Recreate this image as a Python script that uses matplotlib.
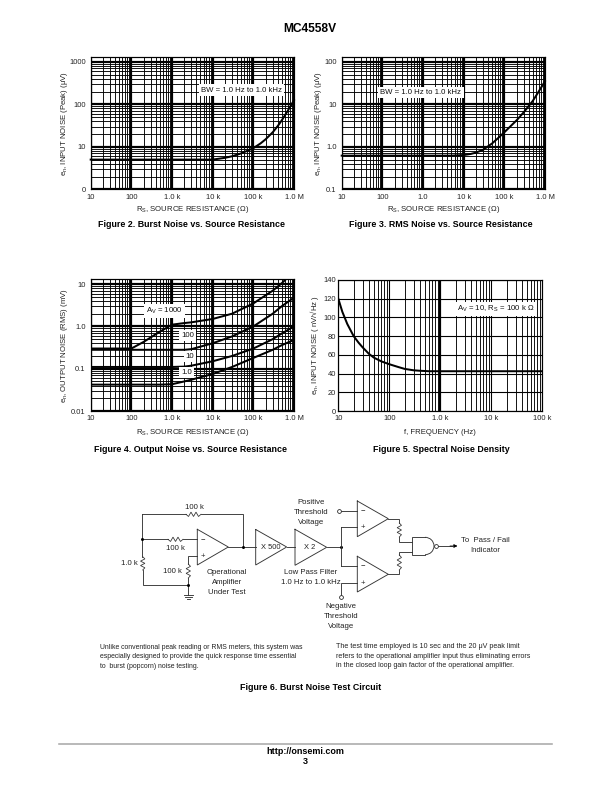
import matplotlib
matplotlib.use("Agg")
import matplotlib.pyplot as plt
import numpy as np
from matplotlib.patches import Arc

plt.rcParams['font.family'] = ['Liberation Sans', 'DejaVu Sans']
plt.rcParams['mathtext.fontset'] = 'custom'
plt.rcParams['mathtext.rm'] = 'Liberation Sans'
plt.rcParams['mathtext.it'] = 'Liberation Sans'
plt.rcParams['mathtext.bf'] = 'Liberation Sans:bold'

W, H = 612, 792

# Figure 2
burst_r = [10, 100, 1e3, 5e3, 1e4, 2e4, 3e4, 5e4, 7e4, 1e5, 1.5e5, 2e5, 3e5, 4e5, 5e5, 7e5, 1e6]
burst_v = [5, 5, 5, 5, 5, 5.5, 6, 7, 8, 9.3, 12, 15, 22, 31, 42, 70, 125]
# Figure 3
rms_r = [10, 100, 1e3, 5e3, 1e4, 1.5e4, 2e4, 3e4, 5e4, 7e4, 1e5, 2e5, 3e5, 5e5, 7e5, 1e6]
rms_v = [0.62, 0.62, 0.62, 0.62, 0.64, 0.68, 0.73, 0.85, 1.2, 1.6, 2.2, 4.2, 6.5, 12, 20, 35]
# Figure 4
out_r = [10, 100, 200, 300, 500, 1e3, 2e3, 3e3, 1e4, 3e4, 1e5, 3e5, 5e5, 1e6]
out_1000 = [0.3, 0.3, 0.43, 0.55, 0.75, 1.1, 1.2, 1.25, 1.5, 2.0, 3.5, 7.0, 10.5, 20]
out_100 = [0.28, 0.28, 0.28, 0.28, 0.28, 0.28, 0.28, 0.29, 0.4, 0.58, 1.0, 2.0, 3.0, 4.8]
out_10 = [0.11, 0.11, 0.11, 0.11, 0.11, 0.11, 0.112, 0.118, 0.15, 0.2, 0.3, 0.5, 0.68, 1.0]
out_1 = [0.042, 0.042, 0.042, 0.042, 0.042, 0.043, 0.05, 0.055, 0.075, 0.11, 0.18, 0.28, 0.36, 0.48]
# Figure 5
freq = [10, 12, 15, 20, 25, 30, 40, 50, 70, 100, 150, 200, 300, 400, 600, 1000, 1e4, 1e5]
spectral = [120, 106, 93, 80, 73, 68, 61, 57, 53, 50, 47, 45, 43.5, 43, 42.5, 42.5, 42.5, 42.5]

x_labels_r = ['10', '100', '1.0 k', '10 k', '100 k', '1.0 M']
x_labels_f = ['10', '100', '1.0 k', '10 k', '100 k']
RS_LABEL = r'R$_{\mathrm{S}}$, SOURCE RESISTANCE (Ω)'
TXT = '#222222'


def add_axes_px(fig, left, top, right, bottom):
    return fig.add_axes([left / W, 1 - bottom / H, (right - left) / W, (bottom - top) / H])


def log_grid(ax, xdec, ydec=None, xmajor=None):
    for d in xdec:
        ax.axvline(d, color='k', lw=2.2 if xmajor is None or d == xmajor else 1.1, zorder=1)
        if d != xdec[-1]:
            for m in range(2, 10):
                ax.axvline(d * m, color='k', lw=0.9, zorder=1)
    if ydec is not None:
        for d in ydec:
            ax.axhline(d, color='k', lw=2.2, zorder=1)
            for m in range(2, 10):
                if d * m < ax.get_ylim()[1]:
                    ax.axhline(d * m, color='k', lw=0.9, zorder=1)


def setup(ax, box, xlim, ylim, xticks, xlabels, yticks, ylabels, ylabel, xlabel, ylab_x, xlab_y, ylog=True, ypad=5):
    left, top, right, bottom = box
    ax.set_xscale('log')
    if ylog:
        ax.set_yscale('log')
    ax.set_xlim(xlim)
    ax.set_ylim(ylim)
    ax.minorticks_off()
    ax.set_xticks(xticks)
    ax.set_xticklabels(xlabels, fontsize=7.5, color=TXT)
    ax.set_yticks(yticks)
    ax.set_yticklabels(ylabels, fontsize=7.5, color=TXT)
    ax.tick_params(axis='y', length=0, pad=ypad)
    ax.tick_params(axis='x', length=0, pad=4.5)
    for s in ax.spines.values():
        s.set_linewidth(1.2)
    ax.set_xlabel(xlabel, fontsize=7.8, color=TXT)
    ax.set_ylabel(ylabel, fontsize=7.8, color=TXT)
    ax.xaxis.set_label_coords(0.5, (bottom - xlab_y) / (bottom - top))
    ax.yaxis.set_label_coords((ylab_x - left) / (right - left), 0.5)
    ax.xaxis.label.set_verticalalignment('center')
    ax.yaxis.label.set_verticalalignment('center')


fig = plt.figure(figsize=(W / 72, H / 72), dpi=72, facecolor='white')
dec_r = [10, 100, 1e3, 1e4, 1e5, 1e6]
dec_f = [10, 100, 1e3, 1e4, 1e5]

# Figure 2
box = (90.7, 57, 294, 189.3)
ax = add_axes_px(fig, *box)
setup(ax, box, (10, 1e6), (1, 1300), dec_r, x_labels_r,
      [1, 10, 100, 1000], ['0', '10', '100', '1000'],
      r'e$_{\mathrm{n}}$, INPUT NOISE (Peak) (μV)', RS_LABEL, 65, 210)
log_grid(ax, dec_r, [1, 10, 100, 1000])
ax.plot(burst_r, burst_v, color='k', lw=2.0, zorder=3, clip_on=False)

# Figure 3
box = (341.7, 57, 545, 189.3)
ax = add_axes_px(fig, *box)
setup(ax, box, (10, 1e6), (0.1, 130), dec_r,
      ['10', '100', '1.0', '10 k', '100 k', '1.0 M'],
      [0.1, 1, 10, 100], ['0.1', '1.0', '10', '100'],
      r'e$_{\mathrm{n}}$, INPUT NOISE (Peak) (μV)', RS_LABEL, 318, 210)
log_grid(ax, dec_r, [0.1, 1, 10, 100])
ax.plot(rms_r, rms_v, color='k', lw=2.0, zorder=3, clip_on=False)

# Figure 4
box = (90.7, 279.3, 294, 411)
ax = add_axes_px(fig, *box)
setup(ax, box, (10, 1e6), (0.01, 13), dec_r, x_labels_r,
      [0.01, 0.1, 1, 10], ['0.01', '0.1', '1.0', '10'],
      r'e$_{\mathrm{n}}$, OUTPUT NOISE (RMS) (mV)', RS_LABEL, 65, 432)
log_grid(ax, dec_r, [0.01, 0.1, 1, 10])
for vals in [out_1000, out_100, out_10, out_1]:
    ax.plot(out_r, vals, color='k', lw=2.0, zorder=3)

# Figure 5
box = (338.3, 280, 542.3, 411)
ax = add_axes_px(fig, *box)
setup(ax, box, (10, 1e5), (0, 140), dec_f, x_labels_f,
      np.arange(0, 141, 20), [str(v) for v in range(0, 141, 20)],
      r'e$_{\mathrm{n}}$, INPUT NOISE ( nV/√Hz )', 'f, FREQUENCY (Hz)', 314.5, 433, ylog=False, ypad=2.5)
log_grid(ax, dec_f, xmajor=1e3)
for v in range(0, 141, 20):
    ax.axhline(v, color='k', lw=1.1, zorder=1)
ax.plot(freq, spectral, color='k', lw=2.0, zorder=3)

# page layer, pixel coordinates
pg = fig.add_axes([0, 0, 1, 1], zorder=10)
pg.set_xlim(0, W)
pg.set_ylim(H, 0)
pg.axis('off')
pg.patch.set_alpha(0)


def t(x, y, s, fs=7.8, ha='center', weight='normal', color=TXT):
    pg.text(x, y, s, fontsize=fs, ha=ha, va='center', fontweight=weight, color=color)


def note(x, y, s):
    pg.text(x, y, s, fontsize=7.8, ha='center', va='center', color='#111111',
            bbox=dict(fc='white', ec='none', pad=2.0))


def wire(xs, ys, lw=0.9, color='#333333'):
    pg.plot(xs, ys, color=color, lw=lw, solid_capstyle='projecting', solid_joinstyle='miter')


def tri(x0, y0, y1, x1, ym):
    wire([x0, x0, x1, x0], [y0, y1, ym, y0])


def dot(x, y):
    pg.plot([x], [y], 'o', color='k', ms=3, mew=0)


def open_dot(x, y, r=3.8):
    pg.plot([x], [y], 'o', mfc='white', mec='#222222', ms=r, mew=0.8, zorder=5)


def res_h(x0, x1, y, n=6, a=2.2):
    xs = np.linspace(x0, x1, n + 1)
    ys = [y] + [y + (a if i % 2 else -a) for i in range(1, n)] + [y]
    wire(xs, ys, lw=0.8)


def res_v(x, y0, y1, n=6, a=2.2):
    ys = np.linspace(y0, y1, n + 1)
    xs = [x] + [x + (a if i % 2 else -a) for i in range(1, n)] + [x]
    wire(xs, ys, lw=0.8)


note(241.7, 90, 'BW = 1.0 Hz to 1.0 kHz')
note(421, 92.3, 'BW = 1.0 Hz to 1.0 kHz')
note(164.3, 310.7, r'A$_{\mathrm{V}}$ = 1000')
note(187.7, 335.7, '100')
note(190, 356.7, '10')
note(186.7, 372.7, '1.0')
note(496, 308.7, r'A$_{\mathrm{V}}$ = 10, R$_{\mathrm{S}}$ = 100 k Ω')

t(310, 28.5, 'MC4558V', fs=12, weight='bold', color='k')
t(192, 224.5, 'Figure 2. Burst Noise vs. Source Resistance', fs=8.9, weight='bold', color='k')
t(441, 224.5, 'Figure 3. RMS Noise vs. Source Resistance', fs=8.9, weight='bold', color='k')
t(191, 449, 'Figure 4. Output Noise vs. Source Resistance', fs=8.9, weight='bold', color='k')
t(441, 449, 'Figure 5. Spectral Noise Density', fs=8.9, weight='bold', color='k')

# circuit
wire([142.3, 186], [514.3, 514.3])
res_h(186, 201, 514.3)
wire([201, 242.7, 242.7], [514.3, 514.3, 547])
wire([142.3, 142.3], [514.3, 556.7])
res_v(142.7, 556.7, 570)
wire([142.7, 142.7, 188.3], [570, 585.3, 585.3])
wire([142.3, 168], [539.3, 539.3])
res_h(168, 183, 539.3)
wire([183, 197.3], [539.3, 539.3])
dot(142.3, 539.3)
wire([197.3, 188.3, 188.3], [556.3, 556.3, 564])
res_v(188.3, 564, 578)
wire([188.3, 188.3], [578, 595])
dot(188.3, 585.3)
wire([183.5, 193.1], [595, 595])
wire([185, 191.6], [597, 597])
wire([186.5, 190.1], [599, 599])
tri(197.3, 529.3, 565, 228.3, 547)
wire([228.3, 255.7], [547, 547])
dot(242.7, 547)
tri(255.7, 529.5, 565, 286.7, 547)
wire([286.7, 295], [547, 547])
tri(295, 529.3, 565.3, 326.7, 547.3)
wire([326.7, 340.7], [547.3, 547.3])
dot(340.7, 547.3)
wire([340.7, 340.7], [527.3, 566])
tri(357.3, 501, 536.7, 388.3, 518.7)
tri(357.3, 556.3, 592, 388.3, 574.3)
wire([341, 357.3], [510.7, 510.7])
open_dot(339.3, 510.7)
wire([340.7, 357.3], [527.3, 527.3])
wire([340.7, 357.3], [566, 566])
wire([357.3, 340.7, 340.7], [583.3, 583.3, 595])
open_dot(340.7, 596.7)
wire([388.3, 399.3, 399.3], [518.7, 518.7, 523])
res_v(399.3, 523, 537)
wire([399.3, 399.3, 412], [537, 541.7, 541.7])
wire([388.3, 399.3, 399.3], [574.3, 574.3, 570])
res_v(399.3, 570, 555)
wire([399.3, 399.3, 412], [555, 551.7, 551.7])
wire([425, 412, 412, 425], [537.3, 537.3, 554.7, 554.7])
pg.add_patch(Arc((425, 546), 18, 17.4, theta1=-90, theta2=90, color='#333333', lw=0.9))
open_dot(436.3, 546)
wire([438, 452], [546, 546])
pg.annotate('', xy=(457.5, 546), xytext=(450, 546),
            arrowprops=dict(arrowstyle='-|>', color='k', lw=0.8, mutation_scale=7,
                            shrinkA=0, shrinkB=0))
t(271, 547.3, 'X 500', fs=7.5)
t(310, 547.3, 'X 2', fs=7.5)
t(202.5, 539.5, '−')
t(202.5, 556.5, '+')
t(362.5, 510.5, '−')
t(362.5, 527.5, '+')
t(362.5, 566, '−')
t(362.5, 583.5, '+')
t(194.3, 507.3, '100 k')
t(175.3, 548.3, '100 k')
t(129, 563.3, '1.0 k')
t(172, 571.7, '100 k')
for y, s in zip([572.7, 582.7, 592.7], ['Operational', 'Amplifier', 'Under Test']):
    t(227.3, y, s)
for y, s in zip([502.3, 512.3, 522.3], ['Positive', 'Threshold', 'Voltage']):
    t(311, y, s)
for y, s in zip([572.7, 582.7], ['Low Pass Filter', '1.0 Hz to 1.0 kHz']):
    t(311, y, s)
for y, s in zip([606.7, 616.7, 626.7], ['Negative', 'Threshold', 'Voltage']):
    t(341, y, s)
t(485, 540, 'To  Pass / Fail')
t(485, 550, 'Indicator')

# body text
left_par = ['Unlike conventional peak reading or RMS meters, this system was',
            'especially designed to provide the quick response time essential',
            'to  burst (popcorn) noise testing.']
right_par = ['The test time employed is 10 sec and the 20 μV peak limit',
             'refers to the operational amplifier input thus eliminating errors',
             'in the closed loop gain factor of the operational amplifier.']
for y, s in zip([647.3, 657, 667], left_par):
    t(100, y, s, fs=6.9, ha='left')
for y, s in zip([646.7, 656.3, 665.7], right_par):
    t(336, y, s, fs=7.1, ha='left')
t(310.5, 687.3, 'Figure 6. Burst Noise Test Circuit', fs=8.9, weight='bold', color='k')

# footer
wire([59, 552], [744, 744], lw=1.6, color='#aaaaaa')
t(305, 752, 'http://onsemi.com', fs=9, weight='bold', color='k')
t(305, 762, '3', fs=9, weight='bold', color='k')

fig.savefig('out.png', dpi=72)
